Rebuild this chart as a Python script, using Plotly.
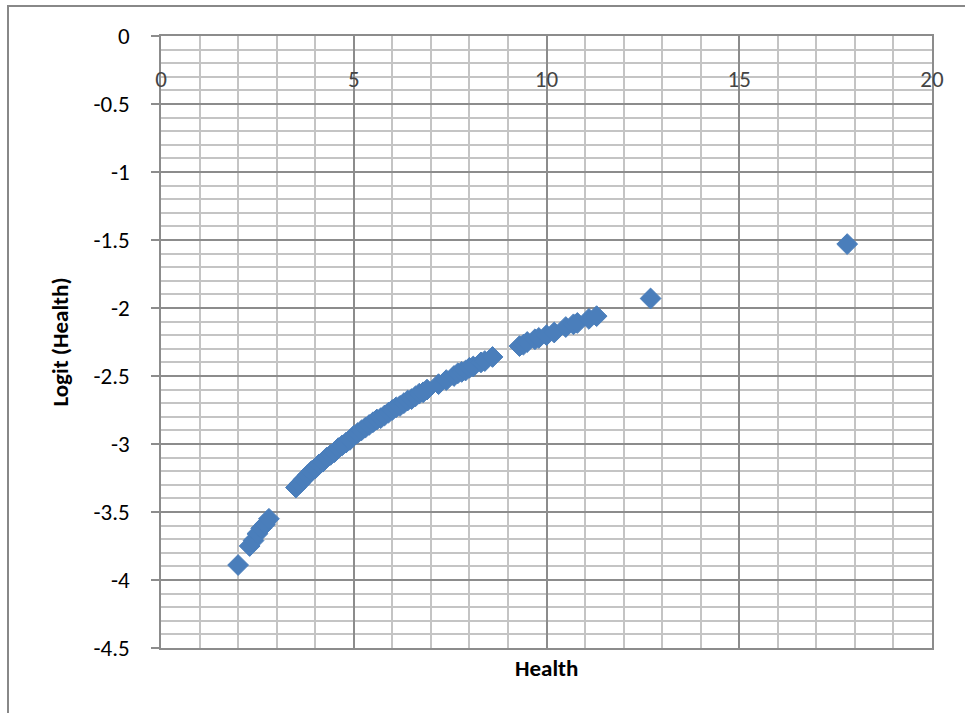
import plotly.graph_objects as go

# Data (Health vs Logit(Health))
health = [2.0, 2.3, 2.4, 2.5, 2.6, 2.7, 2.8,
          3.5, 3.6, 3.7, 3.8, 3.9, 4.0, 4.1, 4.2, 4.3, 4.4, 4.5, 4.6, 4.7, 4.8, 4.9,
          5.0, 5.1, 5.2, 5.3, 5.4, 5.5, 5.6, 5.7, 5.8, 5.9, 6.0, 6.1, 6.2, 6.3, 6.4,
          6.5, 6.6, 6.7, 6.8, 6.9,
          7.2, 7.4, 7.6, 7.7, 7.8, 7.9, 8.0, 8.1, 8.3, 8.4, 8.6,
          9.3, 9.4, 9.5, 9.7, 9.8, 10.0, 10.2, 10.5, 10.7, 10.8, 11.1, 11.3,
          12.7, 17.8]
logit_health = [-3.89, -3.75, -3.71, -3.66, -3.62, -3.59, -3.55,
                -3.32, -3.29, -3.26, -3.23, -3.20, -3.18, -3.15, -3.13, -3.10, -3.08, -3.06, -3.03, -3.01, -2.99, -2.97,
                -2.94, -2.92, -2.90, -2.88, -2.86, -2.84, -2.82, -2.81, -2.79, -2.77, -2.75, -2.73, -2.72, -2.70, -2.68,
                -2.67, -2.65, -2.63, -2.62, -2.60,
                -2.56, -2.53, -2.50, -2.48, -2.47, -2.46, -2.44, -2.43, -2.40, -2.39, -2.36,
                -2.28, -2.27, -2.25, -2.23, -2.22, -2.20, -2.18, -2.14, -2.12, -2.11, -2.08, -2.06,
                -1.93, -1.53]

x_tick_vals = [0, 5, 10, 15, 20]
x_tick_text = ["0", "5", "10", "15", "20"]
y_tick_vals = [0, -0.5, -1, -1.5, -2, -2.5, -3, -3.5, -4, -4.5]
y_tick_text = ["0", "-0.5", "-1", "-1.5", "-2", "-2.5", "-3", "-3.5", "-4", "-4.5"]

x_title = "Health"
y_title = "Logit (Health)"

FONT = "Calibri, Carlito, Lato, sans-serif"
FS = 23
MAJOR = "#8c8c8c"
MINOR = "#c4c4c4"
BLUE = "#4A7EBB"

L, R, T, B = 161, 33, 36, 65
W, H = 965, 713
PW, PH = W - L - R, H - T - B

fig = go.Figure()
fig.add_trace(go.Scatter(
    x=health, y=logit_health, mode="markers",
    marker=dict(symbol="diamond", size=16, color=BLUE,
                line=dict(color=BLUE, width=1)),
    showlegend=False, hoverinfo="x+y",
))

fig.update_layout(
    width=W, height=H,
    margin=dict(l=L, r=R, t=T, b=B),
    paper_bgcolor="white", plot_bgcolor="white",
    font=dict(family=FONT, size=FS, color="black"),
    xaxis=dict(
        range=[x_tick_vals[0], x_tick_vals[-1]], tickvals=x_tick_vals, ticktext=x_tick_text,
        side="top",
        ticklabelposition="inside", ticklabeloverflow="allow",
        ticklabelstandoff=37,
        ticks="", showline=True, linecolor=MAJOR, linewidth=1.5, mirror=True,
        showgrid=True, gridcolor=MAJOR, gridwidth=1.5,
        minor=dict(dtick=1, showgrid=True, gridcolor=MINOR, gridwidth=1.5),
        zeroline=False, tickfont=dict(size=FS),
    ),
    yaxis=dict(
        range=[y_tick_vals[-1], y_tick_vals[0]], tickvals=y_tick_vals, ticktext=y_tick_text,
        ticks="outside", ticklen=8, tickcolor=MAJOR, tickwidth=1.5,
        ticklabelstandoff=17,
        showline=True, linecolor=MAJOR, linewidth=1.5, mirror=True,
        showgrid=True, gridcolor=MAJOR, gridwidth=1.5,
        minor=dict(tick0=0, dtick=0.1, showgrid=True, gridcolor=MINOR, gridwidth=1.5, ticks=""),
        zeroline=False, tickfont=dict(size=FS),
        title=dict(text="<b>" + y_title + "</b>", standoff=18, font=dict(size=FS)),
    ),
    annotations=[dict(
        text="<b>" + x_title + "</b>", xref="paper", yref="paper",
        x=0.5, y=-(668 - (H - B)) / PH, xanchor="center", yanchor="middle",
        showarrow=False, font=dict(size=FS),
    )],
    shapes=[dict(type="rect", xref="paper", yref="paper",
                 x0=(8 - L) / PW, x1=(W + 10 - L) / PW,
                 y0=-(H + 10 - (H - B)) / PH, y1=((H - B) - 6) / PH,
                 line=dict(color="#888888", width=2), fillcolor="rgba(0,0,0,0)",
                 layer="below")],
)

fig.write_html("out.html", config={"displayModeBar": False},
               post_script="document.body.style.margin='0';document.body.style.overflow='hidden';")
